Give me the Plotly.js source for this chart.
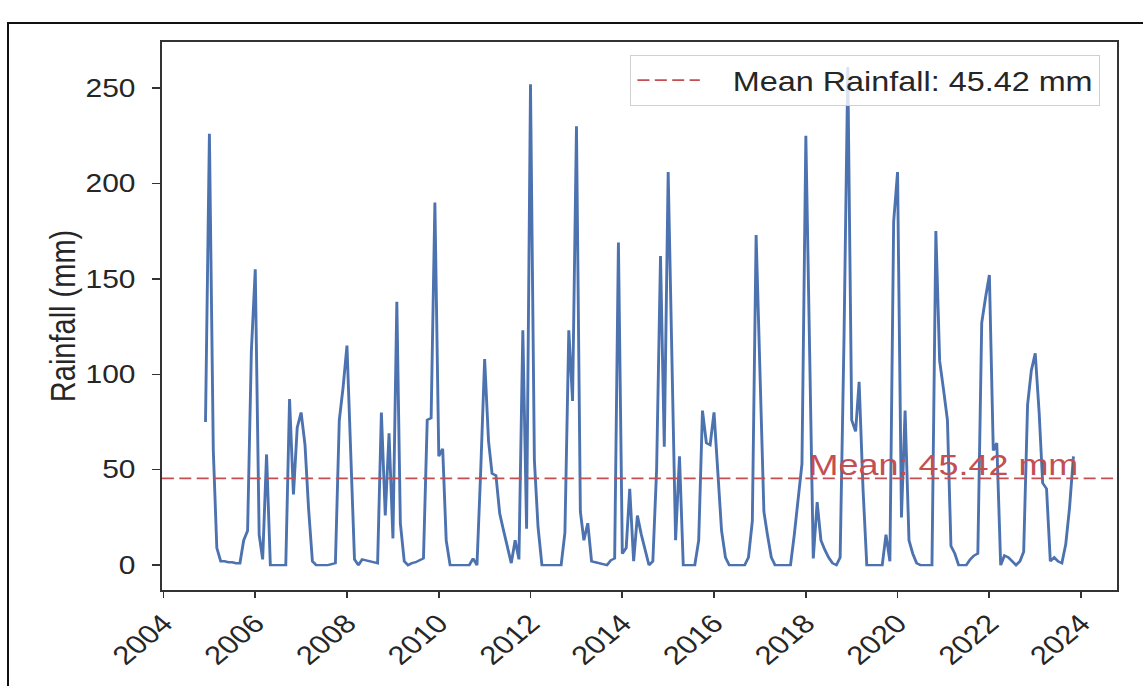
<!DOCTYPE html>
<html>
<head>
<meta charset="utf-8">
<script src="https://cdn.plot.ly/plotly-3.0.1.min.js"></script>
<style>
  html, body { margin: 0; padding: 0; background: #fff; overflow: hidden; }
  #wrap { position: relative; width: 1143px; height: 686px; overflow: hidden; }
  /* the reference picture is horizontally stretched by about 1.2 */
  #chart { position: absolute; left: 0; top: 0; width: 953px; height: 686px;
           transform: scaleX(1.1994); transform-origin: 0 0; }
  #frame { position: absolute; left: 7px; top: 22px; width: 1200px; height: 700px;
           border-left: 2px solid #111; border-top: 2px solid #111; pointer-events: none; }
</style>
</head>
<body>
<div id="wrap">
  <div id="chart"></div>
  <div id="frame"></div>
</div>
<script>
// Monthly rainfall (mm)
const months = [
  "2004-12",
  "2005-01","2005-02","2005-03","2005-04","2005-05","2005-06","2005-07","2005-08","2005-09","2005-10","2005-11","2005-12",
  "2006-01","2006-02","2006-03","2006-04","2006-05","2006-06","2006-07","2006-08","2006-09","2006-10","2006-11","2006-12",
  "2007-01","2007-02","2007-03","2007-04","2007-05","2007-06","2007-07","2007-08","2007-09","2007-10","2007-11","2007-12",
  "2008-01","2008-02","2008-03","2008-04","2008-05","2008-06","2008-07","2008-08","2008-09","2008-10","2008-11","2008-12",
  "2009-01","2009-02","2009-03","2009-04","2009-05","2009-06","2009-07","2009-08","2009-09","2009-10","2009-11","2009-12",
  "2010-01","2010-02","2010-03","2010-04","2010-05","2010-06","2010-07","2010-08","2010-09","2010-10","2010-11","2010-12",
  "2011-01","2011-02","2011-03","2011-04","2011-05","2011-06","2011-07","2011-08","2011-09","2011-10","2011-11","2011-12",
  "2012-01","2012-02","2012-03","2012-04","2012-05","2012-06","2012-07","2012-08","2012-09","2012-10","2012-11","2012-12",
  "2013-01","2013-02","2013-03","2013-04","2013-05","2013-06","2013-07","2013-08","2013-09","2013-10","2013-11","2013-12",
  "2014-01","2014-02","2014-03","2014-04","2014-05","2014-06","2014-07","2014-08","2014-09","2014-10","2014-11","2014-12",
  "2015-01","2015-02","2015-03","2015-04","2015-05","2015-06","2015-07","2015-08","2015-09","2015-10","2015-11","2015-12",
  "2016-01","2016-02","2016-03","2016-04","2016-05","2016-06","2016-07","2016-08","2016-09","2016-10","2016-11","2016-12",
  "2017-01","2017-02","2017-03","2017-04","2017-05","2017-06","2017-07","2017-08","2017-09","2017-10","2017-11","2017-12",
  "2018-01","2018-02","2018-03","2018-04","2018-05","2018-06","2018-07","2018-08","2018-09","2018-10","2018-11","2018-12",
  "2019-01","2019-02","2019-03","2019-04","2019-05","2019-06","2019-07","2019-08","2019-09","2019-10","2019-11","2019-12",
  "2020-01","2020-02","2020-03","2020-04","2020-05","2020-06","2020-07","2020-08","2020-09","2020-10","2020-11","2020-12",
  "2021-01","2021-02","2021-03","2021-04","2021-05","2021-06","2021-07","2021-08","2021-09","2021-10","2021-11","2021-12",
  "2022-01","2022-02","2022-03","2022-04","2022-05","2022-06","2022-07","2022-08","2022-09","2022-10","2022-11","2022-12",
  "2023-01","2023-02","2023-03","2023-04","2023-05","2023-06","2023-07","2023-08","2023-09","2023-10","2023-11"
];
const rainfall = [
  75,
  226,60,9,2,2,1.5,1.5,1,1,13,18,112,
  155,16,3,58,0,0,0,0,0,87,37,72,
  80,63,30,2,0,0,0,0,0.5,1,76,93,
  115,60,3,0,3,2.5,2,1.5,1,80,26,69,
  14,138,22,2,0,1,1.5,2.5,3.5,76,77,190,
  57,61,13,0,0,0,0,0,0,3.5,0,50,
  108,65,48,47,27,18,9,1,13,3,123,19,
  252,55,20,0,0,0,0,0,0,17,123,86,
  230,28,13,22,2,1.5,1,0.5,0,2.5,3.5,169,
  6,9,40,2,26,16,8,0,2,50,162,62,
  206,100,13,57,0,0,0,0,13,81,64,63,
  80,44,18,4,0,0,0,0,0,4,23,173,
  100,28,16,4,0,0,0,0,0,16,34,53,
  225,100,3.5,33,13,8,4,1,0,4,120,261,
  76,70,96,40,0,0,0,0,0,16,2,180,
  206,25,81,13,6,1,0,0,0,0,175,107,
  92,76,10,6,0,0,0,3,5,6,127,140,
  152,60,64,0,5,4,2,0,2,7,84,102,
  111,80,43,40,2,4,2,1,11,30,57
];
const meanValue = 45.42;
const legendLabel = "Mean Rainfall: 45.42 mm";
const meanLabel = "Mean: 45.42 mm";
const yTickValues = [0, 50, 100, 150, 200, 250];
const xRange = ["2003-12-20", "2024-10-10"];
const yRange = [-13.05, 274.1];

const dates = months.map(m => m + "-01");

const textColor = "#262626";
const font = "Liberation Sans, Arial, sans-serif";

const traces = [
  {
    x: dates, y: rainfall, type: "scatter", mode: "lines",
    line: { color: "#4c72b0", width: 2.4 },
    showlegend: false, hoverinfo: "x+y"
  },
  {
    x: xRange, y: [meanValue, meanValue], type: "scatter", mode: "lines",
    name: "\u00a0\u00a0\u00a0" + legendLabel,
    line: { color: "#c44e52", width: 1.8, dash: "10px,4.5px" },
    showlegend: true
  }
];

const layout = {
  width: 953, height: 686,
  margin: { l: 135, r: 22, t: 42, b: 96 },
  paper_bgcolor: "rgba(0,0,0,0)",
  plot_bgcolor: "#ffffff",
  font: { family: font, color: textColor, size: 22 },
  xaxis: {
    type: "date", range: xRange,
    tick0: "2004-01-01", dtick: "M24", tickformat: "%Y",
    tickangle: -45,
    ticks: "outside", ticklen: 6, tickwidth: 1.5, tickcolor: "#333",
    showline: true, linecolor: "#333", linewidth: 2, mirror: true,
    showgrid: false, zeroline: false,
    tickfont: { family: font, size: 26, color: textColor }
  },
  yaxis: {
    range: yRange, tickvals: yTickValues,
    ticks: "outside", ticklen: 6, tickwidth: 1.5, tickcolor: "#333",
    ticklabelstandoff: 9,
    showline: true, linecolor: "#333", linewidth: 2, mirror: true,
    showgrid: false, zeroline: false,
    tickfont: { family: font, size: 25, color: textColor },
    title: { text: "Rainfall (mm)", font: { family: font, size: 29, color: textColor }, standoff: 0 }
  },
  legend: {
    x: 0.983, y: 0.976, xanchor: "right", yanchor: "top",
    bgcolor: "rgba(255,255,255,0.8)", bordercolor: "#d0d0d0", borderwidth: 1,
    font: { family: font, size: 27, color: textColor },
    itemwidth: 52
  },
  annotations: [
    {
      x: "2018-01-01", y: meanValue, xref: "x", yref: "y",
      xanchor: "left", yanchor: "bottom", yshift: -5,
      text: meanLabel, showarrow: false,
      font: { family: font, size: 30, color: "#c44e52" }
    }
  ]
};

Plotly.newPlot("chart", traces, layout, { displayModeBar: false, staticPlot: true });
</script>
</body>
</html>
